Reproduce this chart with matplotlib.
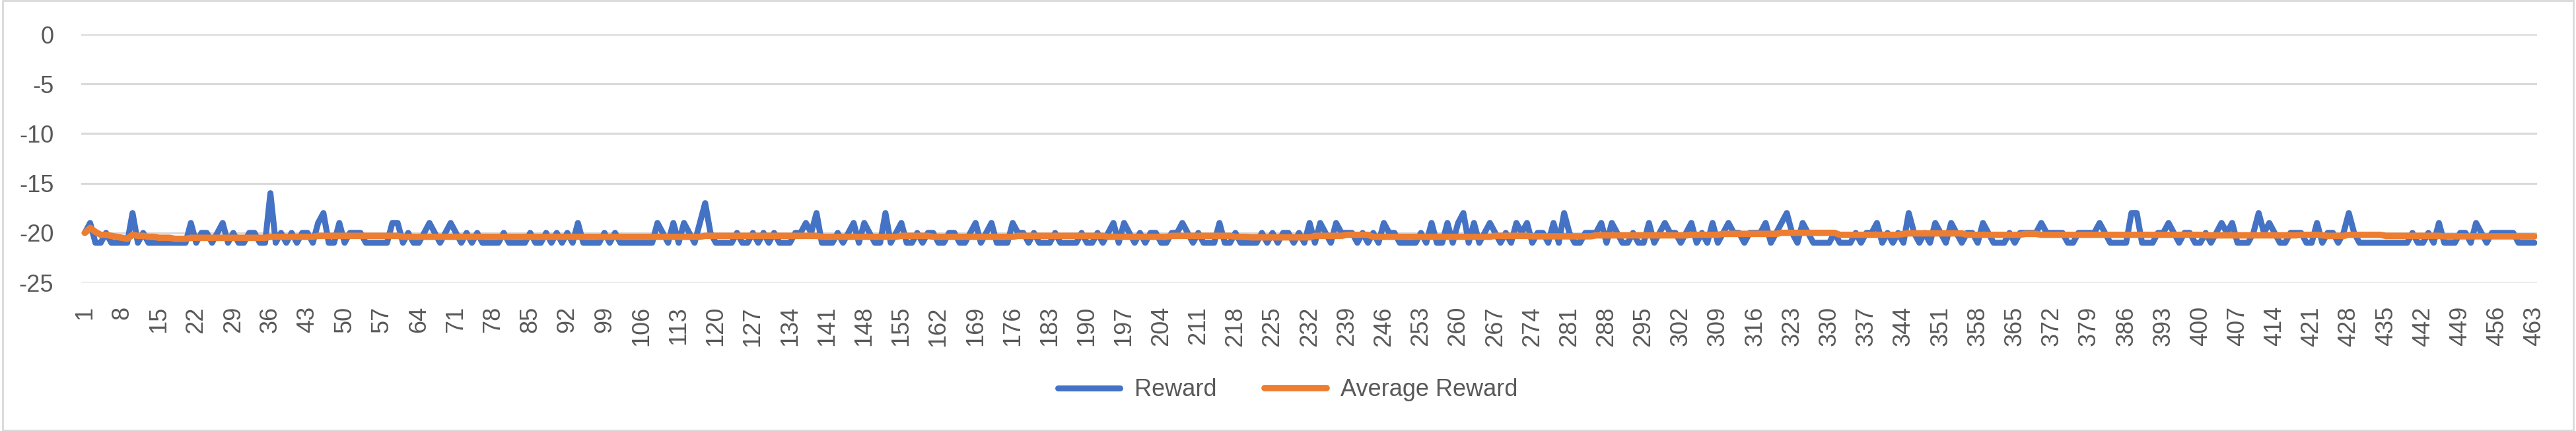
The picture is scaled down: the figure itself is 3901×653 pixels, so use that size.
import numpy as np
import matplotlib
matplotlib.use('Agg')
import matplotlib.pyplot as plt
from matplotlib.patches import Rectangle

# Reward per episode
reward = [
    -20, -19, -21, -21, -20, -21, -21, -21, -21, -18,
    -21, -20, -21, -21, -21, -21, -21, -21, -21, -21,
    -19, -21, -20, -20, -21, -20, -19, -21, -20, -21,
    -21, -20, -20, -21, -21, -16, -21, -20, -21, -20,
    -21, -20, -20, -21, -19, -18, -21, -21, -19, -21,
    -20, -20, -20, -21, -21, -21, -21, -21, -19, -19,
    -21, -20, -21, -21, -20, -19, -20, -21, -20, -19,
    -20, -21, -20, -21, -20, -21, -21, -21, -21, -20,
    -21, -21, -21, -21, -20, -21, -21, -20, -21, -20,
    -21, -20, -21, -19, -21, -21, -21, -21, -20, -21,
    -20, -21, -21, -21, -21, -21, -21, -21, -19, -20,
    -21, -19, -21, -19, -20, -21, -19, -17, -20, -21,
    -21, -21, -21, -20, -21, -21, -20, -21, -20, -21,
    -20, -21, -21, -21, -20, -20, -19, -20, -18, -21,
    -21, -21, -20, -21, -20, -19, -21, -19, -20, -21,
    -21, -18, -21, -20, -19, -21, -21, -20, -21, -20,
    -20, -21, -21, -20, -20, -21, -21, -20, -19, -21,
    -20, -19, -21, -21, -21, -19, -20, -20, -21, -20,
    -21, -21, -21, -20, -21, -21, -21, -21, -20, -21,
    -21, -20, -21, -20, -19, -21, -19, -20, -21, -20,
    -21, -20, -20, -21, -21, -20, -20, -19, -20, -21,
    -20, -21, -21, -21, -19, -21, -21, -20, -21, -21,
    -21, -21, -20, -21, -20, -21, -20, -20, -21, -20,
    -21, -19, -21, -19, -20, -21, -19, -20, -20, -20,
    -21, -20, -21, -20, -21, -19, -20, -20, -21, -21,
    -21, -21, -20, -21, -19, -21, -21, -19, -21, -19,
    -18, -21, -19, -21, -20, -19, -20, -21, -20, -21,
    -19, -20, -19, -21, -20, -20, -21, -19, -21, -18,
    -20, -21, -21, -20, -20, -20, -19, -21, -19, -20,
    -21, -21, -20, -21, -21, -19, -21, -20, -19, -20,
    -20, -21, -20, -19, -21, -20, -21, -19, -21, -20,
    -19, -20, -20, -21, -20, -20, -20, -19, -21, -20,
    -19, -18, -20, -21, -19, -20, -21, -21, -21, -21,
    -20, -21, -21, -21, -20, -21, -20, -20, -19, -21,
    -20, -21, -20, -21, -18, -20, -21, -20, -21, -19,
    -20, -21, -19, -20, -21, -20, -20, -21, -19, -20,
    -21, -21, -21, -20, -21, -20, -20, -20, -20, -19,
    -20, -20, -20, -20, -21, -21, -20, -20, -20, -20,
    -19, -20, -21, -21, -21, -21, -18, -18, -21, -21,
    -21, -20, -20, -19, -20, -21, -20, -20, -21, -21,
    -20, -21, -20, -19, -20, -19, -21, -21, -21, -20,
    -18, -20, -19, -20, -21, -21, -20, -20, -20, -21,
    -21, -19, -21, -20, -20, -21, -20, -18, -20, -21,
    -21, -21, -21, -21, -21, -21, -21, -21, -21, -20,
    -21, -21, -20, -21, -19, -21, -21, -21, -20, -20,
    -21, -19, -20, -21, -20, -20, -20, -20, -20, -21,
    -21, -21, -21,
]

# Average reward per episode
avg_reward = [
    -20.0, -19.5, -19.9, -20.2, -20.2, -20.3, -20.4, -20.5, -20.6, -20.2,
    -20.3, -20.3, -20.4, -20.4, -20.5, -20.5, -20.5, -20.6, -20.6, -20.6,
    -20.5, -20.5, -20.5, -20.5, -20.5, -20.5, -20.5, -20.5, -20.5, -20.5,
    -20.5, -20.5, -20.5, -20.5, -20.5, -20.4, -20.4, -20.4, -20.4, -20.4,
    -20.4, -20.4, -20.4, -20.4, -20.3, -20.3, -20.3, -20.3, -20.3, -20.3,
    -20.3, -20.3, -20.3, -20.3, -20.3, -20.3, -20.3, -20.3, -20.3, -20.3,
    -20.4, -20.4, -20.4, -20.4, -20.4, -20.4, -20.4, -20.4, -20.4, -20.4,
    -20.4, -20.4, -20.4, -20.4, -20.4, -20.4, -20.4, -20.4, -20.4, -20.4,
    -20.4, -20.4, -20.4, -20.4, -20.4, -20.4, -20.4, -20.4, -20.4, -20.4,
    -20.4, -20.4, -20.4, -20.4, -20.4, -20.4, -20.4, -20.4, -20.4, -20.4,
    -20.4, -20.4, -20.4, -20.4, -20.4, -20.4, -20.4, -20.4, -20.4, -20.4,
    -20.4, -20.4, -20.4, -20.4, -20.4, -20.4, -20.4, -20.3, -20.3, -20.3,
    -20.3, -20.3, -20.3, -20.3, -20.3, -20.3, -20.3, -20.3, -20.3, -20.3,
    -20.3, -20.3, -20.3, -20.3, -20.3, -20.3, -20.3, -20.3, -20.3, -20.4,
    -20.4, -20.4, -20.4, -20.4, -20.4, -20.4, -20.4, -20.4, -20.4, -20.4,
    -20.4, -20.4, -20.4, -20.4, -20.3, -20.3, -20.3, -20.3, -20.3, -20.3,
    -20.4, -20.4, -20.4, -20.4, -20.4, -20.4, -20.4, -20.4, -20.4, -20.4,
    -20.4, -20.4, -20.4, -20.4, -20.4, -20.4, -20.3, -20.3, -20.3, -20.3,
    -20.3, -20.3, -20.3, -20.3, -20.3, -20.3, -20.3, -20.3, -20.3, -20.3,
    -20.3, -20.3, -20.3, -20.4, -20.4, -20.4, -20.4, -20.4, -20.4, -20.4,
    -20.4, -20.4, -20.4, -20.4, -20.4, -20.3, -20.3, -20.3, -20.3, -20.3,
    -20.3, -20.3, -20.3, -20.3, -20.3, -20.3, -20.3, -20.4, -20.4, -20.4,
    -20.45, -20.45, -20.45, -20.45, -20.45, -20.45, -20.45, -20.45, -20.45, -20.45,
    -20.45, -20.45, -20.3, -20.3, -20.3, -20.3, -20.3, -20.3, -20.2, -20.2,
    -20.2, -20.2, -20.2, -20.4, -20.4, -20.4, -20.4, -20.4, -20.4, -20.4,
    -20.4, -20.4, -20.4, -20.4, -20.4, -20.4, -20.4, -20.4, -20.4, -20.4,
    -20.4, -20.4, -20.4, -20.4, -20.4, -20.4, -20.3, -20.3, -20.3, -20.3,
    -20.3, -20.3, -20.3, -20.35, -20.35, -20.35, -20.35, -20.35, -20.35, -20.35,
    -20.35, -20.35, -20.35, -20.35, -20.35, -20.25, -20.25, -20.25, -20.25, -20.25,
    -20.25, -20.25, -20.25, -20.25, -20.25, -20.25, -20.25, -20.25, -20.25, -20.25,
    -20.25, -20.25, -20.25, -20.2, -20.2, -20.2, -20.2, -20.2, -20.2, -20.1,
    -20.1, -20.1, -20.1, -20.1, -20.1, -20.1, -20.1, -20.1, -20.1, -20.1,
    -20.0, -20.0, -20.0, -20.0, -20.0, -20.0, -20.0, -20.0, -20.0, -20.0,
    -20.0, -20.2, -20.2, -20.2, -20.2, -20.2, -20.2, -20.2, -20.2, -20.2,
    -20.2, -20.2, -20.2, -20.1, -20.05, -20.05, -20.05, -20.05, -20.05, -20.05,
    -20.05, -20.05, -20.05, -20.05, -20.05, -20.2, -20.2, -20.2, -20.2, -20.2,
    -20.2, -20.2, -20.2, -20.2, -20.2, -20.2, -20.1, -20.1, -20.1, -20.2,
    -20.2, -20.2, -20.2, -20.2, -20.2, -20.2, -20.2, -20.2, -20.2, -20.2,
    -20.2, -20.2, -20.2, -20.2, -20.2, -20.2, -20.2, -20.2, -20.2, -20.2,
    -20.2, -20.2, -20.2, -20.2, -20.2, -20.2, -20.2, -20.2, -20.2, -20.2,
    -20.25, -20.25, -20.25, -20.25, -20.25, -20.25, -20.25, -20.25, -20.25, -20.25,
    -20.25, -20.25, -20.25, -20.25, -20.25, -20.25, -20.25, -20.25, -20.2, -20.2,
    -20.2, -20.2, -20.25, -20.3, -20.3, -20.3, -20.3, -20.2, -20.2, -20.2,
    -20.2, -20.2, -20.2, -20.2, -20.3, -20.3, -20.3, -20.3, -20.3, -20.3,
    -20.3, -20.3, -20.3, -20.3, -20.3, -20.35, -20.35, -20.35, -20.35, -20.35,
    -20.35, -20.35, -20.35, -20.35, -20.35, -20.35, -20.35, -20.35, -20.35, -20.35,
    -20.35, -20.35, -20.35,
]

episodes = np.arange(1, len(reward) + 1)
y_ticks = [0, -5, -10, -15, -20, -25]

BLUE = '#4472C4'
ORANGE = '#ED7D31'
GRID = '#D9D9D9'
TEXT = '#595959'

plt.rcParams['font.family'] = ['Liberation Sans', 'DejaVu Sans']
plt.rcParams['axes.unicode_minus'] = False

W, H = 3901, 653
fig = plt.figure(figsize=(W / 100, H / 100), dpi=100)
fig.patch.set_facecolor('white')
fig.patches.append(Rectangle((0.001, 0.002), 0.998, 0.996, transform=fig.transFigure,
                             fill=False, edgecolor=GRID, linewidth=2.0))

ax = fig.add_axes([123 / W, 1 - 428 / H, (3842 - 123) / W, (428 - 52) / H])
ax.plot(episodes, reward, color=BLUE, linewidth=6.5, solid_joinstyle='round',
        solid_capstyle='round', label='Reward', zorder=3)
ax.plot(episodes, avg_reward, color=ORANGE, linewidth=7, solid_joinstyle='round',
        solid_capstyle='round', label='Average Reward', zorder=4)

ax.set_ylim(-25, 0)
ax.set_xlim(0.32, 463.5)
ax.set_yticks(y_ticks)
ax.set_yticklabels([str(v) for v in y_ticks])
xt = episodes[::7]
ax.set_xticks(xt)
ax.set_xticklabels([str(v) for v in xt], rotation=90, va='top', ha='center')
ax.yaxis.grid(True, color=GRID, linewidth=2.2)
ax.set_axisbelow(True)
for s in ax.spines.values():
    s.set_visible(False)
ax.tick_params(axis='both', length=0, labelsize=26, colors=TEXT)
ax.tick_params(axis='y', pad=30)
ax.tick_params(axis='x', pad=26)

leg = fig.legend(loc='center', bbox_to_anchor=(0.5, 0.095), ncol=2, frameon=False,
                 fontsize=26, handlelength=2.6, columnspacing=2.0, handletextpad=0.6)
for t in leg.get_texts():
    t.set_color(TEXT)

fig.savefig('out.png', dpi=100)
